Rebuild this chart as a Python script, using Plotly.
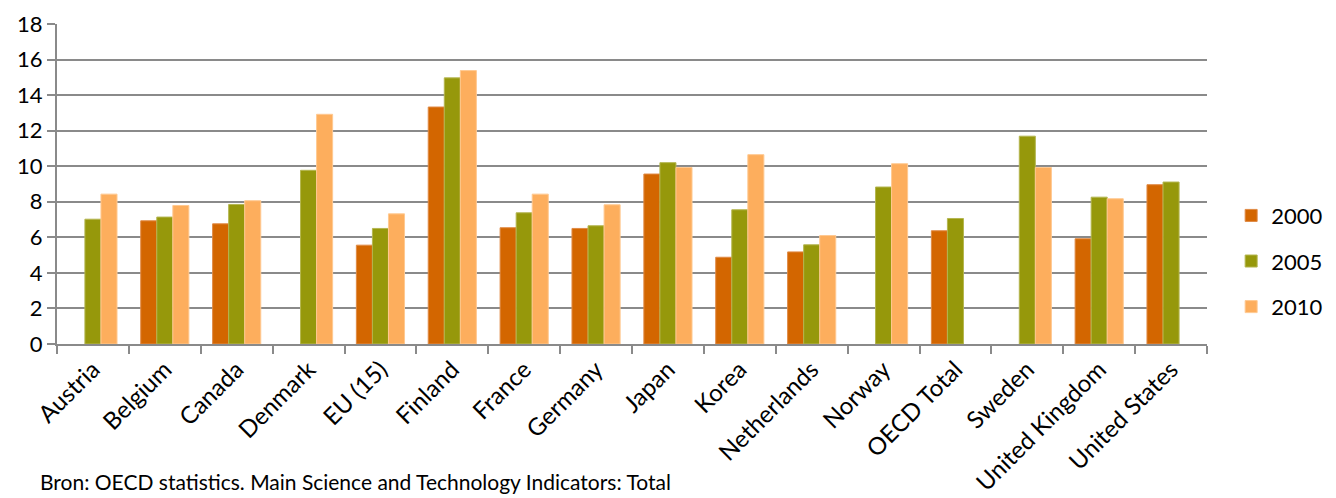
import plotly.graph_objects as go

categories = ["Austria", "Belgium", "Canada", "Denmark", "EU (15)", "Finland", "France",
              "Germany", "Japan", "Korea", "Netherlands", "Norway", "OECD Total",
              "Sweden", "United Kingdom", "United States"]
v2000 = [None, 6.93, 6.76, None, 5.56, 13.33, 6.54, 6.50, 9.56, 4.88, 5.18, None, 6.37, None, 5.92, 8.96]
v2005 = [7.02, 7.14, 7.85, 9.77, 6.50, 14.97, 7.38, 6.65, 10.20, 7.55, 5.58, 8.83, 7.06, 11.69, 8.26, 9.11]
v2010 = [8.43, 7.79, 8.06, 12.92, 7.32, 15.38, 8.43, 7.83, 9.93, 10.65, 6.10, 10.14, None, 9.93, 8.17, None]
series_names = ["2000", "2005", "2010"]
y_ticks = [0, 2, 4, 6, 8, 10, 12, 14, 16, 18]
source_text = "Bron: OECD statistics. Main Science and Technology Indicators: Total"

colors = ["#D36600", "#96980B", "#FDAE5D"]
borders = ["#E08A45", "#B4B650", "#FFC991"]

fig = go.Figure()
for i, (name, vals) in enumerate(zip(series_names, [v2000, v2005, v2010])):
    fig.add_trace(go.Bar(
        x=categories, y=vals, name=name, legendgroup=name,
        marker=dict(color=colors[i], line=dict(color=borders[i], width=1)),
    ))

fig.update_layout(
    width=1336, height=498,
    margin=dict(l=57, r=129, t=24, b=154, autoexpand=False),
    paper_bgcolor="white", plot_bgcolor="white",
    barmode="group", bargap=0.33, bargroupgap=0,
    font=dict(family="Lato", color="black"),
    showlegend=True,
    legend=dict(x=1.021, xanchor="left", y=0.259, yanchor="middle",
                font=dict(size=22, family="Lato", color="black"),
                tracegroupgap=14, itemwidth=30, bgcolor="rgba(0,0,0,0)"),
    xaxis=dict(
        type="category", tickangle=-45, tickfont=dict(size=24, family="Lato", color="black"),
        showline=True, linecolor="#8a8a8a", linewidth=2, automargin=False,
        ticks="outside", tickson="boundaries", ticklen=8, tickcolor="#8a8a8a", tickwidth=2,
        showgrid=False,
    ),
    yaxis=dict(
        range=[0, 18], tickvals=y_ticks, automargin=False,
        tickfont=dict(size=22, family="Lato", color="black"),
        showline=True, linecolor="#8a8a8a", linewidth=2,
        ticks="outside", ticklen=8, tickcolor="#8a8a8a", tickwidth=2,
        showgrid=True, gridcolor="#8a8a8a", gridwidth=2,
        zeroline=False,
    ),
    annotations=[dict(
        text=source_text, xref="paper", yref="paper",
        x=-0.0165, y=-0.431, xanchor="left", yanchor="middle",
        showarrow=False, font=dict(size=21, family="Lato", color="black"),
    )],
)

fig.write_html("out.html", config={"displayModeBar": False},
               post_script="document.body.style.margin='0';document.body.style.overflow='hidden';")
